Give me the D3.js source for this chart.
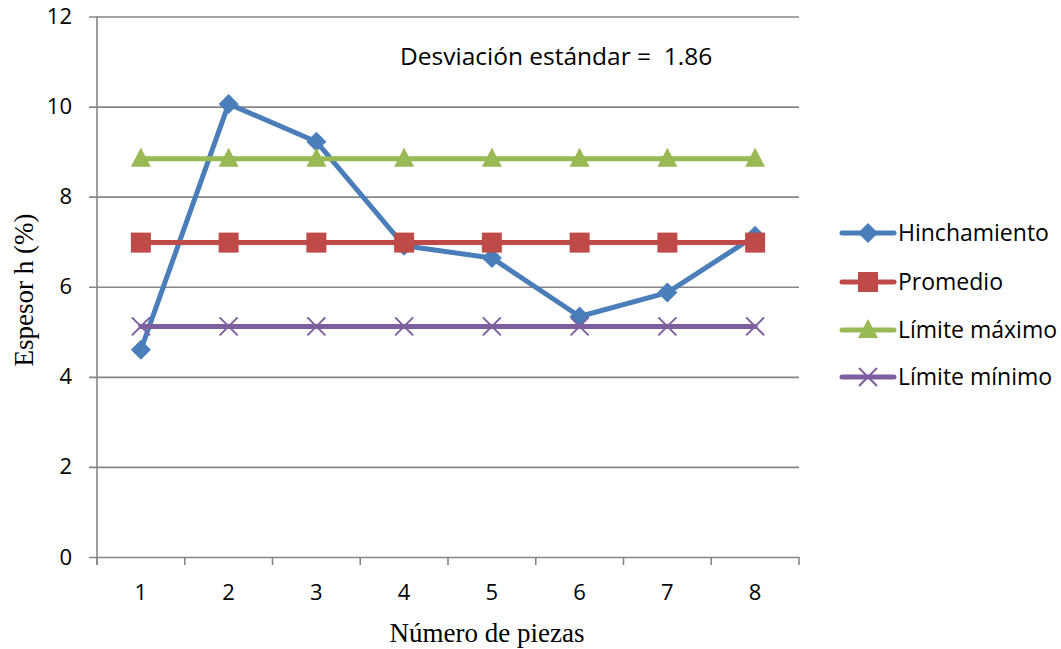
<!DOCTYPE html>
<html>
<head>
<meta charset="utf-8">
<script src="https://cdn.jsdelivr.net/npm/d3@7"></script>
<style>
  html, body { margin: 0; padding: 0; background: #fff; }
  svg { display: block; }
</style>
</head>
<body>
<svg id="chart" width="1061" height="649"></svg>
<script>
// Piece numbers and measured swelling values
const piezas = [1, 2, 3, 4, 5, 6, 7, 8];
const hinchamiento = [4.60, 10.06, 9.22, 6.91, 6.64, 5.34, 5.87, 7.13];
const promedio = [6.98, 6.98, 6.98, 6.98, 6.98, 6.98, 6.98, 6.98];
const limiteMaximo = [8.84, 8.84, 8.84, 8.84, 8.84, 8.84, 8.84, 8.84];
const limiteMinimo = [5.12, 5.12, 5.12, 5.12, 5.12, 5.12, 5.12, 5.12];
const yTicks = [0, 2, 4, 6, 8, 10, 12];
const seriesNames = ["Hinchamiento", "Promedio", "Límite máximo", "Límite mínimo"];
const desviacion = "1.86";

const series = [
  { name: seriesNames[0], values: hinchamiento, color: "#4A7EBB", marker: "diamond" },
  { name: seriesNames[1], values: promedio, color: "#BE4B48", marker: "square" },
  { name: seriesNames[2], values: limiteMaximo, color: "#98B954", marker: "triangle" },
  { name: seriesNames[3], values: limiteMinimo, color: "#7D5FA0", marker: "x" }
];

const svg = d3.select("#chart");
const plot = { left: 97, right: 799, top: 16.5, bottom: 557 };
const sansFont = "'Open Sans', Lato, sans-serif";
const serifFont = "'Liberation Serif', 'DejaVu Serif', serif";
const gridColor = "#868686";

const x = d3.scaleBand().domain(piezas).range([plot.left, plot.right]).paddingInner(0).paddingOuter(0);
const y = d3.scaleLinear().domain([0, 12]).range([plot.bottom, plot.top]);

// Horizontal gridlines with left tick marks
const yAxis = d3.axisLeft(y).tickValues(yTicks).tickSize(plot.right - plot.left + 8).tickPadding(17).tickFormat(d3.format("d"));
const gy = svg.append("g").attr("transform", `translate(${plot.right},0)`).call(yAxis);
gy.select(".domain").remove();
gy.selectAll(".tick line").attr("stroke", gridColor).attr("stroke-width", 1.6);
gy.selectAll(".tick text").attr("font-family", sansFont).attr("font-size", 22).attr("fill", "#000");

// Vertical axis line
svg.append("line")
  .attr("x1", plot.left).attr("x2", plot.left)
  .attr("y1", plot.top).attr("y2", plot.bottom + 8)
  .attr("stroke", gridColor).attr("stroke-width", 1.6);

// Category axis: tick marks at band boundaries, labels at band centers
const boundaries = piezas.map(d => x(d)).concat([plot.right]);
svg.append("g").selectAll("line").data(boundaries).join("line")
  .attr("x1", d => d).attr("x2", d => d)
  .attr("y1", plot.bottom).attr("y2", plot.bottom + 8)
  .attr("stroke", gridColor).attr("stroke-width", 1.6);
svg.append("g").selectAll("text").data(piezas).join("text")
  .attr("x", d => x(d) + x.bandwidth() / 2)
  .attr("y", 600)
  .attr("text-anchor", "middle")
  .attr("font-family", sansFont).attr("font-size", 22).attr("fill", "#000")
  .text(d => d);

// Axis titles
svg.append("text")
  .attr("x", 487).attr("y", 642)
  .attr("text-anchor", "middle")
  .attr("font-family", serifFont).attr("font-size", 27).attr("fill", "#000")
  .text("Número de piezas");
svg.append("text")
  .attr("transform", "translate(33,290) rotate(-90)")
  .attr("text-anchor", "middle")
  .attr("font-family", serifFont).attr("font-size", 27).attr("fill", "#000")
  .text("Espesor h (%)");

// Annotation
svg.append("text")
  .attr("x", 400).attr("y", 65)
  .attr("font-family", sansFont).attr("font-size", 24.5).attr("fill", "#000")
  .attr("xml:space", "preserve")
  .style("white-space", "pre")
  .text("Desviación estándar =  " + desviacion);

// Marker drawing helper
function drawMarker(g, type, color, cx, cy) {
  if (type === "diamond") {
    g.append("path")
      .attr("d", `M${cx},${cy - 10}L${cx + 10},${cy}L${cx},${cy + 10}L${cx - 10},${cy}Z`)
      .attr("fill", color);
  } else if (type === "square") {
    g.append("rect")
      .attr("x", cx - 10).attr("y", cy - 10).attr("width", 20).attr("height", 20)
      .attr("fill", color);
  } else if (type === "triangle") {
    g.append("path")
      .attr("d", `M${cx},${cy - 11}L${cx + 10},${cy + 8}L${cx - 10},${cy + 8}Z`)
      .attr("fill", color);
  } else {
    g.append("path")
      .attr("d", `M${cx - 9},${cy - 9}L${cx + 9},${cy + 9}M${cx - 9},${cy + 9}L${cx + 9},${cy - 9}`)
      .attr("stroke", color).attr("stroke-width", 2).attr("fill", "none");
  }
}

const line = d3.line()
  .x((d, i) => x(piezas[i]) + x.bandwidth() / 2)
  .y(d => y(d));

series.forEach(s => {
  const g = svg.append("g");
  g.append("path")
    .attr("d", line(s.values))
    .attr("fill", "none")
    .attr("stroke", s.color)
    .attr("stroke-width", 5)
    .attr("stroke-linejoin", "round")
    .attr("stroke-linecap", "round");
  s.values.forEach((v, i) => drawMarker(g, s.marker, s.color, x(piezas[i]) + x.bandwidth() / 2, y(v)));
});

// Legend
const legendRows = [233, 282, 330, 377];
series.forEach((s, i) => {
  const g = svg.append("g");
  const ly = legendRows[i];
  g.append("line")
    .attr("x1", 842).attr("x2", 894).attr("y1", ly).attr("y2", ly)
    .attr("stroke", s.color).attr("stroke-width", 5).attr("stroke-linecap", "round");
  drawMarker(g, s.marker, s.color, 868, ly);
  g.append("text")
    .attr("x", 898).attr("y", ly + 8)
    .attr("font-family", sansFont).attr("font-size", 23).attr("fill", "#000")
    .text(s.name);
});
</script>
</body>
</html>
